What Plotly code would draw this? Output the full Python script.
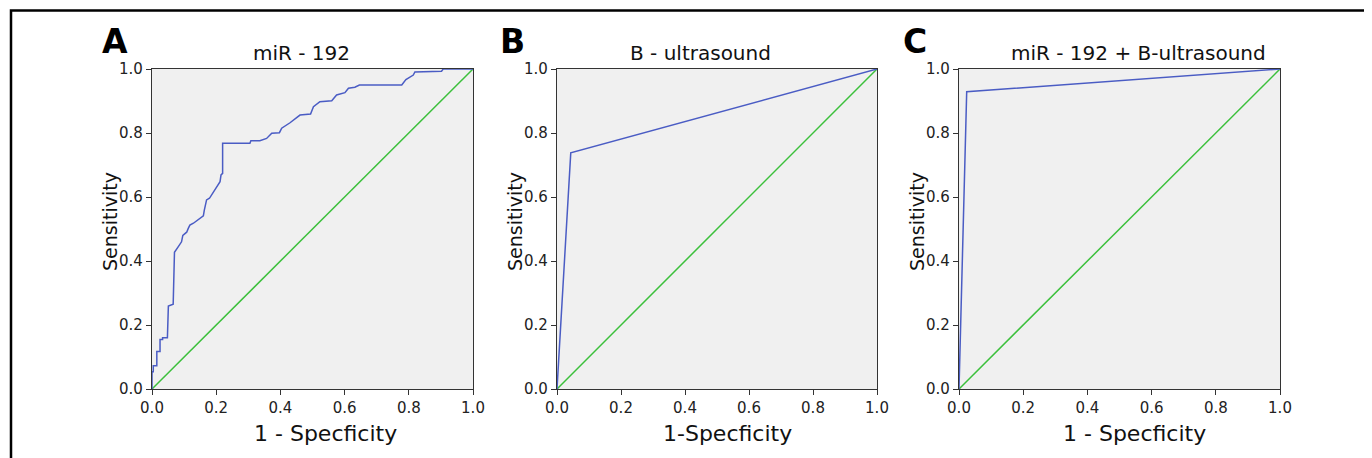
import plotly.graph_objects as go

# Panel A: ROC of miR-192 (1-specificity, sensitivity)
a_fpr = [0.0, 0.0, 0.004, 0.004, 0.015, 0.015, 0.025, 0.025, 0.033, 0.033, 0.048, 0.051, 0.066, 0.070,
         0.082, 0.092, 0.096, 0.108, 0.113, 0.118, 0.129, 0.144, 0.160, 0.163, 0.170, 0.179, 0.212,
         0.215, 0.220, 0.220, 0.305, 0.308, 0.336, 0.357, 0.373, 0.397, 0.404, 0.430, 0.461, 0.494,
         0.503, 0.523, 0.560, 0.575, 0.601, 0.612, 0.632, 0.646, 0.778, 0.791, 0.814, 0.819, 0.902,
         0.907, 1.0]
a_tpr = [0.0, 0.054, 0.054, 0.073, 0.073, 0.117, 0.117, 0.155, 0.155, 0.160, 0.160, 0.259, 0.265, 0.427,
         0.445, 0.460, 0.480, 0.490, 0.502, 0.512, 0.518, 0.528, 0.541, 0.559, 0.591, 0.596, 0.648,
         0.669, 0.674, 0.768, 0.768, 0.776, 0.776, 0.783, 0.799, 0.801, 0.815, 0.832, 0.856, 0.859,
         0.882, 0.898, 0.901, 0.919, 0.926, 0.940, 0.943, 0.950, 0.950, 0.967, 0.981, 0.991, 0.993,
         1.0, 1.0]

# Panel B: ROC of B-ultrasound
b_fpr = [0.0, 0.043, 1.0]
b_tpr = [0.0, 0.738, 1.0]

# Panel C: ROC of miR-192 + B-ultrasound
c_fpr = [0.0, 0.024, 1.0]
c_tpr = [0.0, 0.929, 1.0]

ref_line = [0.0, 1.0]

titles = ["miR - 192", "B - ultrasound", "miR - 192 + B-ultrasound"]
letters = ["A", "B", "C"]
xtitles = ["1 - Specficity", "1-Specficity", "1 - Specficity"]
ytitle = "Sensitivity"
tickvals = [0.0, 0.2, 0.4, 0.6, 0.8, 1.0]
ticktext = ["0.0", "0.2", "0.4", "0.6", "0.8", "1.0"]

W, H = 1372, 458
OFF = 8  # page body margin offset
FONT = "DejaVu Sans, Arial, sans-serif"
BLUE = "#4a5cc4"
GREEN = "#3cc03c"


def PX(p):
    return (p - OFF) / W


def PY(p):
    return 1 - (p - OFF) / H


panels_px = [(152, 473), (557, 877), (959, 1280)]
letter_x = [115, 512, 915]
title_x = [301, 700, 1138]
xtitle_x = [325, 728, 1134]
top_px, bot_px = 69, 389

fig = go.Figure()
layout = dict(width=W, height=H, margin=dict(l=0, r=0, t=0, b=0, pad=0), template="none",
              paper_bgcolor="white", plot_bgcolor="#f0f0f0", showlegend=False,
              font=dict(family=FONT, color="#222"))
annotations = []
curves = [(a_fpr, a_tpr), (b_fpr, b_tpr), (c_fpr, c_tpr)]
for i, ((x0, x1), (fx, fy)) in enumerate(zip(panels_px, curves)):
    n = "" if i == 0 else str(i + 1)
    xa, ya = "x" + n, "y" + n
    fig.add_trace(go.Scatter(x=ref_line, y=ref_line, mode="lines", xaxis=xa, yaxis=ya,
                             line=dict(color=GREEN, width=1.5), hoverinfo="skip"))
    fig.add_trace(go.Scatter(x=fx, y=fy, mode="lines", xaxis=xa, yaxis=ya,
                             line=dict(color=BLUE, width=1.5), hoverinfo="skip"))
    axcommon = dict(range=[0, 1], tickvals=tickvals, ticktext=ticktext, ticks="outside",
                    ticklen=5, tickwidth=1, tickcolor="#333", showline=True, linecolor="#333",
                    linewidth=1.2, mirror=True, showgrid=False, zeroline=False, automargin=False,
                    tickfont=dict(size=15, family=FONT, color="#222"))
    layout["xaxis" + n] = dict(axcommon, domain=[PX(x0), PX(x1)], anchor=ya)
    layout["yaxis" + n] = dict(axcommon, domain=[PY(bot_px), PY(top_px)], anchor=xa)
    annotations.append(dict(text=titles[i], x=PX(title_x[i]), y=PY(53), xref="paper", yref="paper",
                            showarrow=False, font=dict(size=20, family=FONT, color="#111"),
                            xanchor="center", yanchor="middle"))
    annotations.append(dict(text=xtitles[i], x=PX(xtitle_x[i]), y=PY(433), xref="paper", yref="paper",
                            showarrow=False, font=dict(size=22, family=FONT, color="#111"),
                            xanchor="center", yanchor="middle"))
    annotations.append(dict(text=ytitle, x=PX(x0 - 42), y=PY(222), xref="paper", yref="paper",
                            showarrow=False, textangle=-90,
                            font=dict(size=19, family=FONT, color="#111"),
                            xanchor="center", yanchor="middle"))
    annotations.append(dict(text="<b>" + letters[i] + "</b>", x=PX(letter_x[i]), y=PY(41),
                            xref="paper", yref="paper", showarrow=False,
                            font=dict(size=33, family=FONT, color="#000"),
                            xanchor="center", yanchor="middle"))
layout["annotations"] = annotations
layout["shapes"] = [dict(type="rect", xref="paper", yref="paper", x0=PX(11), x1=1.05,
                         y0=-0.1, y1=PY(10.5), line=dict(color="black", width=2.5))]
fig.update_layout(**layout)
fig.write_html("out.html")
